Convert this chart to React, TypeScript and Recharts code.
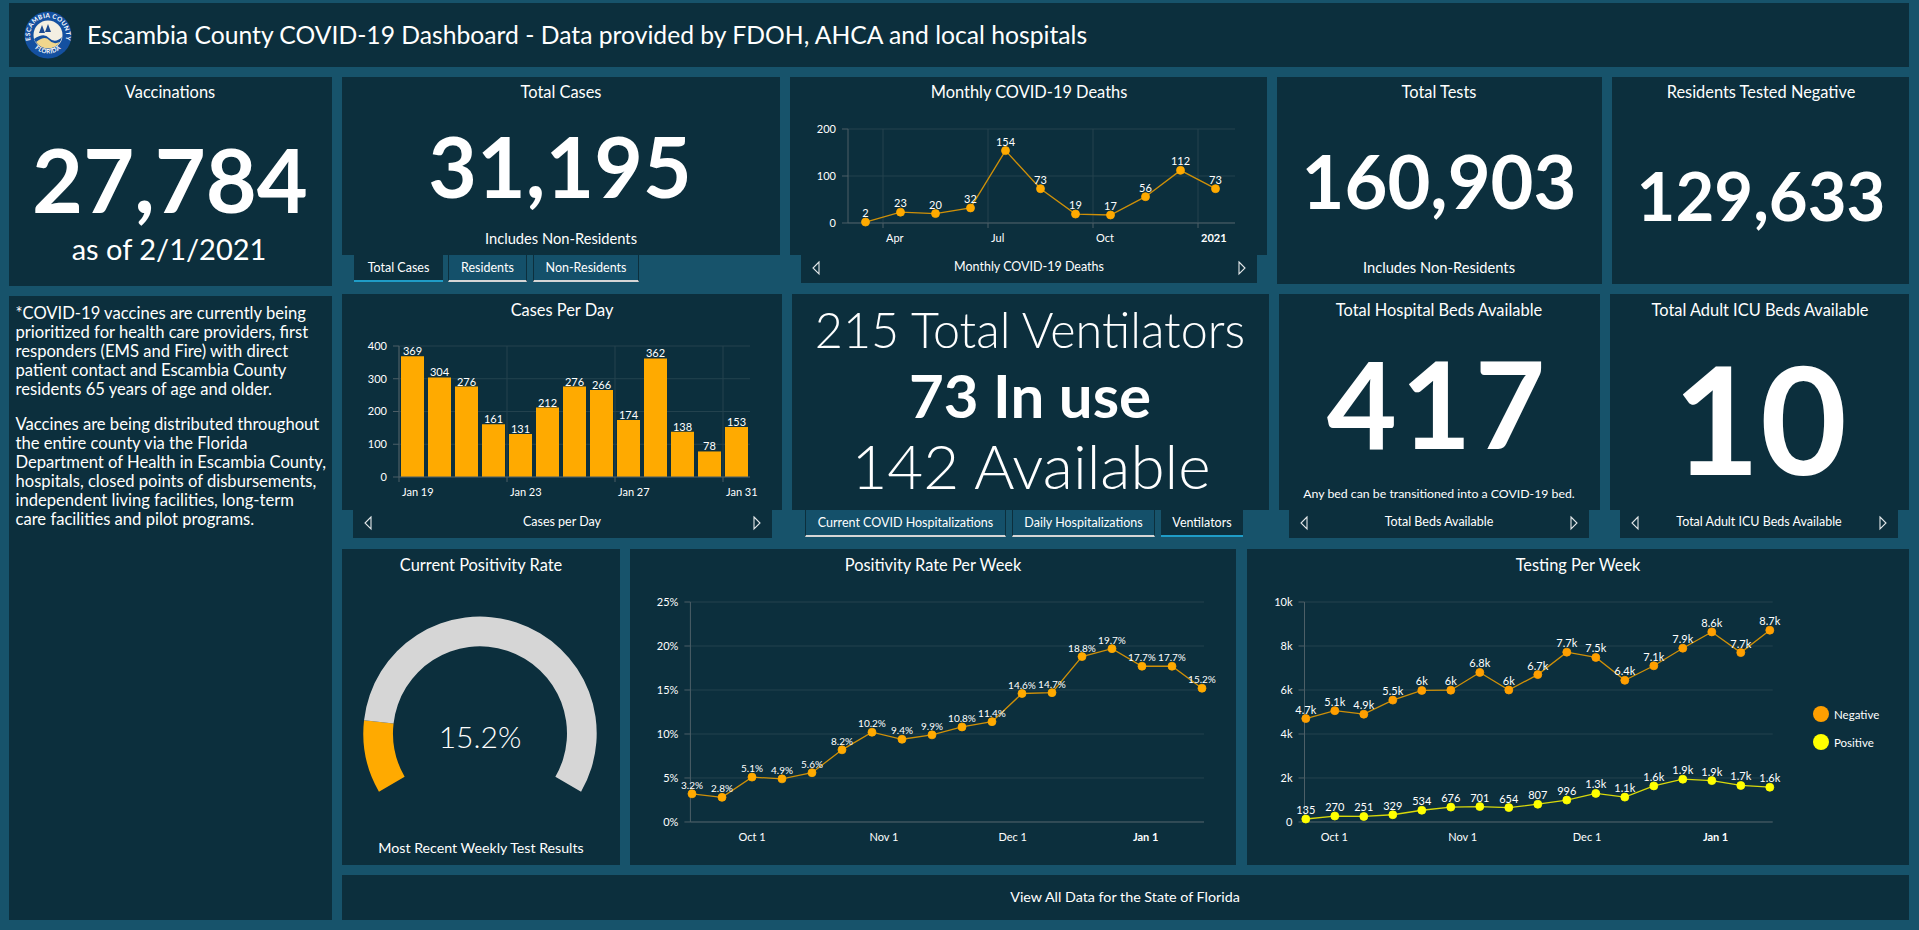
import React from 'react';
import {
  LineChart, Line, BarChart, Bar, PieChart, Pie, Cell, XAxis, YAxis, CartesianGrid, LabelList, Legend,
} from 'recharts';

// ---------- data ----------
const monthlyMonths = ['Mar', 'Apr', 'May', 'Jun', 'Jul', 'Aug', 'Sep', 'Oct', 'Nov', 'Dec', 'Jan'];
const monthlyDeaths = [2, 23, 20, 32, 154, 73, 19, 17, 56, 112, 73];
const monthlyTickLabels = ['Apr', 'Jul', 'Oct', '2021'];
const monthlyTickPositions = [1, 4, 7, 10];

const caseDays = ['Jan 19', 'Jan 20', 'Jan 21', 'Jan 22', 'Jan 23', 'Jan 24', 'Jan 25', 'Jan 26', 'Jan 27', 'Jan 28', 'Jan 29', 'Jan 30', 'Jan 31'];
const casesPerDay = [369, 304, 276, 161, 131, 212, 276, 266, 174, 362, 138, 78, 153];
const caseTickLabels = ['Jan 19', 'Jan 23', 'Jan 27', 'Jan 31'];
const caseTickPositions = [0, 4, 8, 12];

const positivityRates = [3.2, 2.8, 5.1, 4.9, 5.6, 8.2, 10.2, 9.4, 9.9, 10.8, 11.4, 14.6, 14.7, 18.8, 19.7, 17.7, 17.7, 15.2];
const positivityMonthLabels = ['Oct 1', 'Nov 1', 'Dec 1', 'Jan 1'];
const positivityLabelWeeks = [2.0, 6.4, 10.69, 15.12];
const positivityBoundaryWeeks = [4.22, 8.52, 12.93];

const testNegative = [4700, 5060, 4900, 5540, 5980, 5990, 6800, 6000, 6700, 7720, 7480, 6440, 7100, 7900, 8640, 7700, 8720];
const testPositive = [135, 270, 251, 329, 534, 676, 701, 654, 807, 996, 1300, 1130, 1640, 1945, 1880, 1660, 1580];
const testingMonthLabels = ['Oct 1', 'Nov 1', 'Dec 1', 'Jan 1'];
const testingLabelWeeks = [0.986, 5.41, 9.7, 14.13];
const testingBoundaryWeeks = [3.21, 7.54, 11.95];

const gaugeSlices = [{ name: 'Positive', value: 15.2 }, { name: 'Rest', value: 84.8 }];

const infoLines1 = [
  '*COVID-19 vaccines are currently being',
  'prioritized for health care providers, first',
  'responders (EMS and Fire) with direct',
  'patient contact and Escambia County',
  'residents 65 years of age and older.',
];
const infoLines2 = [
  'Vaccines are being distributed throughout',
  'the entire county via the Florida',
  'Department of Health in Escambia County,',
  'hospitals, closed points of disbursements,',
  'independent living facilities, long-term',
  'care facilities and pilot programs.',
];

const monthlyData = monthlyDeaths.map((v, i) => ({ month: monthlyMonths[i], x: i + 0.5, v }));
const caseData = casesPerDay.map((v, i) => ({ day: caseDays[i], x: i + 0.5, v }));
const positivityData = positivityRates.map((v, i) => ({ x: i, v }));
const testingData = testNegative.map((v, i) => ({ x: i, Negative: v, Positive: testPositive[i] }));

// ---------- style ----------
const PAGE = '#17536b';
const PANEL = '#0c2f3d';
const ORANGE = '#ffaa00';
const LINE_ORANGE = '#cf9008';
const GRID = '#24434f';
const AXIS = '#4d5f67';
const FONT = 'Lato, "Noto Sans", sans-serif';
const TITLE = 16.4;
const THIN = 0.01;

const Panel = ({ x, y, w, h }: any) => (
  <div style={{ position: 'absolute', left: x, top: y, width: w, height: h, background: PANEL }} />
);
const T = ({ x, y, size, weight = 400, children, anchor = 'center', spacing = 0 }: any) => (
  <div style={{
    position: 'absolute', left: x, top: y, fontSize: size, fontWeight: weight, color: '#fff',
    whiteSpace: 'nowrap', lineHeight: 1, letterSpacing: spacing,
    transform: anchor === 'center' ? 'translate(-50%,-50%)' : 'translate(0,-50%)',
  }}>{children}</div>
);
const Arrow = ({ x, y, dir }: any) => (
  <svg style={{ position: 'absolute', left: x - 5, top: y - 8 }} width={10} height={16}>
    <path d={dir < 0 ? 'M8 2 L2 8 L8 14 Z' : 'M2 2 L8 8 L2 14 Z'} fill="none" stroke="#e4e8ea" strokeWidth={1.1} />
  </svg>
);
const Footer = ({ x, y, w, label, al, ar, textX }: any) => (
  <>
    <Panel x={x} y={y} w={w} h={28} />
    <T x={textX ?? x + w / 2} y={y + 12} size={12.5}>{label}</T>
    <Arrow x={al} y={y + 13} dir={-1} />
    <Arrow x={ar} y={y + 13} dir={1} />
  </>
);
const Tab = ({ x, w, y, label, active }: any) => (
  <div style={{
    position: 'absolute', left: x, top: y, width: w, height: 27, boxSizing: 'border-box',
    background: active ? PANEL : '#14506a',
    borderLeft: active ? 'none' : `1px solid ${PANEL}`, borderRight: active ? 'none' : `1px solid ${PANEL}`,
    borderBottom: `2px solid ${active ? '#1f9cc7' : '#d6d6d6'}`,
    color: '#fff', fontSize: 12.5, textAlign: 'center', lineHeight: '25px', whiteSpace: 'nowrap',
  }}>{label}</div>
);

const makeTick = (labels: string[], boldLabel: string, anchor: string, dx: number) => (props: any) => {
  const text = labels[props.index];
  return (
    <text x={props.x + dx} y={props.y} dy={11} textAnchor={anchor} fill="#fff" fontSize={11}
      fontWeight={text === boldLabel ? 700 : 400}>{text}</text>
  );
};
const yTick = { fill: '#fff', fontSize: 11 };
const kFormat = (v: number) => {
  if (v < 1000) return String(v);
  return (v / 1000).toFixed(1).replace('.0', '') + 'k';
};

const box = (x: number, y: number) => ({ position: 'absolute' as const, left: x, top: y });

const MonthlyChart = () => (
  <div style={box(790, 100)}>
    <LineChart width={477} height={155} data={monthlyData} margin={{ top: 29, right: 32, bottom: 32, left: 0 }}>
      <CartesianGrid stroke={GRID} syncWithTicks />
      <XAxis dataKey="x" type="number" domain={[0, 11.057]} ticks={monthlyTickPositions} interval={0} height={THIN}
        stroke={AXIS} tickSize={5} tickMargin={3} tick={makeTick(monthlyTickLabels, '2021', 'start', 3)} />
      <YAxis width={58} domain={[0, 200]} ticks={[0, 100, 200]} stroke={AXIS} tick={yTick} tickSize={6} tickMargin={6} />
      <Line dataKey="v" stroke={LINE_ORANGE} strokeWidth={1.3} isAnimationActive={false}
        dot={{ r: 4, fill: ORANGE, stroke: ORANGE, strokeWidth: 0.8 }}>
        <LabelList dataKey="v" position="top" offset={5} fill="#fff" fontSize={11} />
      </Line>
    </LineChart>
  </div>
);

const CasesChart = () => (
  <div style={box(342, 320)}>
    <BarChart width={440} height={190} data={caseData} margin={{ top: 26, right: 32, bottom: 33, left: 0 }}>
      <CartesianGrid stroke={GRID} syncWithTicks />
      <XAxis dataKey="x" type="number" domain={[0, 13]} ticks={caseTickPositions} interval={0} height={THIN}
        stroke={AXIS} tickSize={5} tickMargin={3} tick={makeTick(caseTickLabels, '', 'start', 3)} />
      <YAxis width={57} domain={[0, 400]} ticks={[0, 100, 200, 300, 400]} stroke={AXIS} tick={yTick} tickSize={6} tickMargin={6} />
      <Bar dataKey="v" fill={ORANGE} barSize={23} isAnimationActive={false}>
        <LabelList dataKey="v" position="top" offset={1} fill="#fff" fontSize={11} />
      </Bar>
    </BarChart>
  </div>
);

const PositivityChart = () => (
  <div style={box(630, 580)}>
    <LineChart width={606} height={285} data={positivityData} margin={{ top: 22, right: 32, bottom: 43, left: 0 }}>
      <CartesianGrid stroke={GRID} xAxisId="bounds" syncWithTicks />
      <XAxis dataKey="x" type="number" domain={[-0.053, 17.067]} ticks={positivityLabelWeeks} interval={0} height={THIN}
        axisLine={false} tickLine={false} tickSize={5} tickMargin={3} tick={makeTick(positivityMonthLabels, 'Jan 1', 'middle', 0)} />
      <XAxis xAxisId="bounds" dataKey="x" type="number" domain={[-0.053, 17.067]} ticks={positivityBoundaryWeeks} interval={0} height={THIN}
        stroke={AXIS} tickSize={5} tick={false} />
      <YAxis width={60.4} domain={[0, 25]} ticks={[0, 5, 10, 15, 20, 25]} tickFormatter={(v: number) => `${v}%`}
        stroke={AXIS} tick={yTick} tickSize={6} tickMargin={6} />
      <Line dataKey="v" stroke={LINE_ORANGE} strokeWidth={1.3} isAnimationActive={false}
        dot={{ r: 4, fill: ORANGE, stroke: ORANGE, strokeWidth: 0.8 }}>
        <LabelList dataKey="v" position="top" offset={5} fill="#fff" fontSize={10} formatter={(v: number) => `${v}%`} />
      </Line>
    </LineChart>
  </div>
);

const LegendBody = ({ payload }: any) => (
  <div>
    {(payload || []).map((p: any) => (
      <div key={p.value} style={{ display: 'flex', alignItems: 'center', height: 28, color: '#fff', fontSize: 11.5 }}>
        <span style={{ width: 16, height: 16, borderRadius: 8, background: p.payload.dot.fill, display: 'inline-block', marginRight: 5 }} />
        {p.value}
      </div>
    ))}
  </div>
);

const TestingChart = () => (
  <div style={box(1247, 580)}>
    <LineChart width={662} height={285} data={testingData} margin={{ top: 22, right: 136.3, bottom: 43, left: 0 }}>
      <CartesianGrid stroke={GRID} xAxisId="bounds" syncWithTicks />
      <XAxis dataKey="x" type="number" domain={[-0.045, 16.1]} ticks={testingLabelWeeks} interval={0} height={THIN}
        axisLine={false} tickLine={false} tickSize={5} tickMargin={3} tick={makeTick(testingMonthLabels, 'Jan 1', 'middle', 0)} />
      <XAxis xAxisId="bounds" dataKey="x" type="number" domain={[-0.045, 16.1]} ticks={testingBoundaryWeeks} interval={0} height={THIN}
        stroke={AXIS} tickSize={5} tick={false} />
      <YAxis width={57.5} domain={[0, 10000]} ticks={[0, 2000, 4000, 6000, 8000, 10000]} tickFormatter={kFormat}
        stroke={AXIS} tick={yTick} tickSize={6} tickMargin={6} />
      <Legend layout="vertical" align="center" verticalAlign="middle" content={<LegendBody />}
        wrapperStyle={{ position: 'absolute', left: 566, top: 120, width: 90 }} />
      <Line dataKey="Negative" stroke={LINE_ORANGE} strokeWidth={1.3} isAnimationActive={false}
        dot={{ r: 4, fill: '#ff9f00', stroke: '#ff9f00', strokeWidth: 0.8 }}>
        <LabelList dataKey="Negative" position="top" offset={5} fill="#fff" fontSize={11} formatter={kFormat} />
      </Line>
      <Line dataKey="Positive" stroke="#d9d90a" strokeWidth={1.3} isAnimationActive={false}
        dot={{ r: 4, fill: '#ffff00', stroke: '#ffff00', strokeWidth: 0.8 }}>
        <LabelList dataKey="Positive" position="top" offset={5} fill="#fff" fontSize={11} formatter={kFormat} />
      </Line>
    </LineChart>
  </div>
);

const GaugeChart = () => (
  <div style={box(342, 549)}>
    <PieChart width={278} height={316} margin={{ top: 0, right: 0, bottom: 0, left: 0 }}>
      <Pie data={gaugeSlices} dataKey="value" cx={138} cy={184.3} innerRadius={87} outerRadius={116.7}
        startAngle={210} endAngle={-30} stroke="none" isAnimationActive={false}>
        <Cell fill={ORANGE} />
        <Cell fill="#d6d6d6" />
      </Pie>
    </PieChart>
  </div>
);

const Logo = () => (
  <svg style={{ position: 'absolute', left: 24, top: 11 }} width={48} height={48} viewBox="-24 -24 48 48">
    <defs>
      <path id="sealTop" d="M -17.2 6 A 18 18 0 1 1 17.2 6" />
      <path id="sealBottom" d="M -15 11.5 A 19.5 19.5 0 0 0 15 11.5" />
    </defs>
    <circle r={23.5} fill="#1450a0" />
    <circle r={14.5} fill="#f3efe2" />
    <path d="M -14 4 Q -4 -3 1 3 Q 7 9 14 2 A 14.5 14.5 0 0 1 -14 4 Z" fill="#1450a0" />
    <path d="M -12 7 Q -3 0 1 5 Q 5 10 12 7 A 14.5 14.5 0 0 1 -12 7 Z" fill="#f0d68c" />
    <path d="M -9 -2 L -6 -10 L -3 -2 Z M -3 -3 L 0 -11 L 3 -3 Z" fill="#1a4a90" />
    <text fontSize={6.4} fontWeight={700} fill="#fff" letterSpacing={0.3}>
      <textPath href="#sealTop" startOffset="50%" textAnchor="middle">ESCAMBIA COUNTY</textPath>
    </text>
    <text fontSize={6.2} fontWeight={700} fill="#fff" letterSpacing={0.3}>
      <textPath href="#sealBottom" startOffset="50%" textAnchor="middle">FLORIDA</textPath>
    </text>
  </svg>
);

export default function App() {
  return (
    <div style={{
      position: 'absolute', left: 0, top: 0, width: 1919, height: 930, overflow: 'hidden',
      background: PAGE, fontFamily: FONT, color: '#fff',
    }}>
      {/* header */}
      <Panel x={9} y={3} w={1900} h={64} />
      <Logo />
      <T x={87} y={35} size={24.7} anchor="left">Escambia County COVID-19 Dashboard - Data provided by FDOH, AHCA and local hospitals</T>

      {/* row 1 */}
      <Panel x={9} y={77} w={323} h={209} />
      <T x={170} y={92} size={TITLE}>Vaccinations</T>
      <T x={170} y={179} size={88} weight={700}>27,784</T>
      <T x={169} y={248} size={29}>as of 2/1/2021</T>

      <Panel x={342} y={77} w={438} h={178} />
      <T x={561} y={92} size={TITLE}>Total Cases</T>
      <T x={560} y={166} size={84} weight={700}>31,195</T>
      <T x={561} y={238} size={14.7}>Includes Non-Residents</T>
      <Tab x={354} w={89} y={255} label="Total Cases" active />
      <Tab x={448} w={79} y={255} label="Residents" />
      <Tab x={533} w={106} y={255} label="Non-Residents" />

      <Panel x={790} y={77} w={477} h={178} />
      <T x={1029} y={92} size={TITLE}>Monthly COVID-19 Deaths</T>
      <Footer x={801} y={255} w={456} label="Monthly COVID-19 Deaths" al={816} ar={1242} textX={1029} />
      <MonthlyChart />

      <Panel x={1277} y={77} w={325} h={207} />
      <T x={1439} y={92} size={TITLE}>Total Tests</T>
      <T x={1439} y={181} size={74} weight={700}>160,903</T>
      <T x={1439} y={267} size={14.7}>Includes Non-Residents</T>

      <Panel x={1612} y={77} w={297} h={207} />
      <T x={1761} y={92} size={TITLE}>Residents Tested Negative</T>
      <T x={1761} y={195} size={67} weight={700}>129,633</T>

      {/* left text */}
      <Panel x={9} y={296} w={323} h={624} />
      {infoLines1.map((l, i) => <T key={l} x={15.5} y={313 + i * 19} size={16.6} anchor="left">{l}</T>)}
      {infoLines2.map((l, i) => <T key={l} x={15.5} y={424 + i * 19} size={16.6} anchor="left">{l}</T>)}

      {/* row 2 */}
      <Panel x={342} y={294} w={440} h={216} />
      <T x={562} y={310} size={TITLE}>Cases Per Day</T>
      <Footer x={353} y={510} w={419} label="Cases per Day" al={368} ar={757} textX={562} />
      <CasesChart />

      <Panel x={792} y={294} w={477} h={216} />
      <T x={1030} y={329} size={48.5} weight={300}>215 Total Ventilators</T>
      <T x={1030} y={395} size={60} weight={700}>73 In use</T>
      <T x={1031} y={465} size={62} weight={300}>142 Available</T>
      <Tab x={805} w={201} y={510} label="Current COVID Hospitalizations" />
      <Tab x={1012} w={143} y={510} label="Daily Hospitalizations" />
      <Tab x={1161} w={82} y={510} label="Ventilators" active />

      <Panel x={1279} y={294} w={321} h={216} />
      <T x={1439} y={310} size={TITLE}>Total Hospital Beds Available</T>
      <T x={1438} y={402} size={121} weight={700} spacing={4}>417</T>
      <T x={1439} y={494} size={12.3}>Any bed can be transitioned into a COVID-19 bed.</T>
      <Footer x={1289} y={510} w={300} label="Total Beds Available" al={1304} ar={1574} textX={1439} />

      <Panel x={1610} y={294} w={299} h={216} />
      <T x={1760} y={310} size={TITLE}>Total Adult ICU Beds Available</T>
      <T x={1760} y={417} size={150} weight={700}>10</T>
      <Footer x={1620} y={510} w={278} label="Total Adult ICU Beds Available" al={1635} ar={1883} textX={1759} />

      {/* row 3 */}
      <Panel x={342} y={549} w={278} h={316} />
      <T x={481} y={565} size={TITLE}>Current Positivity Rate</T>
      <GaugeChart />
      <T x={480} y={736} size={30} weight={300}>15.2%</T>
      <T x={481} y={848} size={14.2}>Most Recent Weekly Test Results</T>

      <Panel x={630} y={549} w={606} h={316} />
      <T x={933} y={565} size={TITLE}>Positivity Rate Per Week</T>
      <PositivityChart />

      <Panel x={1247} y={549} w={662} h={316} />
      <T x={1578} y={565} size={TITLE}>Testing Per Week</T>
      <TestingChart />

      <Panel x={342} y={875} w={1567} h={45} />
      <T x={1125} y={897} size={14.3}>View All Data for the State of Florida</T>
    </div>
  );
}
